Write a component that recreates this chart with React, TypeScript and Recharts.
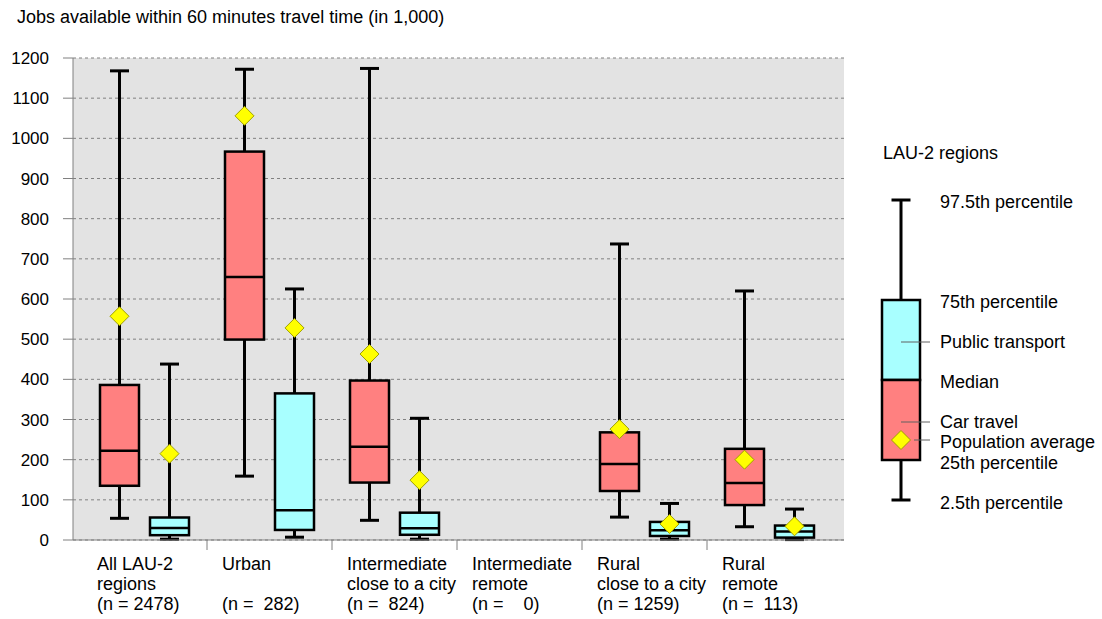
import React from 'react';
import { ComposedChart, Bar, XAxis, YAxis, CartesianGrid } from 'recharts';

// ---------- data ----------
const catLine1 = ['All LAU-2', 'Urban', 'Intermediate', 'Intermediate', 'Rural', 'Rural'];
const catLine2 = ['regions', '', 'close to a city', 'remote', 'close to a city', 'remote'];
const counts = ['(n = 2478)', '(n =  282)', '(n =  824)', '(n =    0)', '(n = 1259)', '(n =  113)'];

// [2.5th, 25th, median, 75th, 97.5th, population average]
const carStats: (number[] | null)[] = [
  [54, 135, 222, 386, 1168, 557],
  [159, 499, 655, 967, 1172, 1056],
  [49, 143, 232, 397, 1174, 463],
  null,
  [57, 122, 189, 268, 737, 276],
  [33, 87, 142, 227, 620, 200],
];
const ptStats: (number[] | null)[] = [
  [2, 12, 30, 56, 438, 215],
  [7, 25, 74, 365, 625, 528],
  [2, 13, 29, 68, 303, 149],
  null,
  [2, 10, 24, 45, 91, 40],
  [1, 6, 21, 36, 77, 34],
];
const yTicks = [0, 100, 200, 300, 400, 500, 600, 700, 800, 900, 1000, 1100, 1200];

const data = catLine1.map((c, i) => ({
  name: `${c} ${catLine2[i]}`.trim(),
  car: carStats[i],
  pt: ptStats[i],
}));

const FONT = 'Arial, "Liberation Sans", sans-serif';
const FS = 18;
const CAR = '#FF8080';
const PT = '#A8FFFF';
const GRID = '#808080';

const Diamond = ({ cx, cy, r }: { cx: number; cy: number; r: number }) => (
  <polygon
    points={`${cx},${cy - r} ${cx + r},${cy} ${cx},${cy + r} ${cx - r},${cy}`}
    fill="#FFFF00"
    stroke="#A0A000"
    strokeWidth={1}
  />
);

const makeBoxShape = (key: 'car' | 'pt', fill: string) => (props: any) => {
  const { x, y, width, height, payload } = props;
  const s = payload && payload[key];
  if (!s || !isFinite(y) || !isFinite(height)) return <g />;
  const [lo, q1, med, q3, hi, mean] = s;
  const top = Math.min(y, y + height);
  const h = Math.abs(height);
  const k = h / (hi - lo);
  const Y = (v: number) => top + (hi - v) * k;
  const cx = x + width / 2;
  const cap = 9.5;
  return (
    <g>
      <line x1={cx} x2={cx} y1={Y(hi)} y2={Y(lo)} stroke="#000" strokeWidth={3} />
      <line x1={cx - cap} x2={cx + cap} y1={Y(hi)} y2={Y(hi)} stroke="#000" strokeWidth={3} />
      <line x1={cx - cap} x2={cx + cap} y1={Y(lo)} y2={Y(lo)} stroke="#000" strokeWidth={3} />
      <rect x={x} y={Y(q3)} width={width} height={Y(q1) - Y(q3)} fill={fill} stroke="#000" strokeWidth={2.5} />
      <line x1={x} x2={x + width} y1={Y(med)} y2={Y(med)} stroke="#000" strokeWidth={2.5} />
      <Diamond cx={cx} cy={Y(mean)} r={9.5} />
    </g>
  );
};

const CatTick = (props: any) => {
  const { x, y, payload, index } = props;
  const half = payload && typeof payload.offset === 'number' && payload.offset > 0 ? payload.offset : 62.5;
  const left = x - half;
  const lines = [catLine1[index], catLine2[index], counts[index]];
  return (
    <g>
      {index > 0 && <line x1={left} x2={left} y1={y} y2={y + 10} stroke={GRID} strokeWidth={1} />}
      {lines.map((t, j) =>
        t ? (
          <text key={j} x={left + 15} y={y + 30 + j * 20} fontSize={FS} fontFamily={FONT} fill="#000" style={{ whiteSpace: 'pre' }}>
            {t}
          </text>
        ) : null
      )}
    </g>
  );
};

const legendLabels: [string, number][] = [
  ['97.5th percentile', 208],
  ['75th percentile', 308],
  ['Public transport', 348],
  ['Median', 388],
  ['Car travel', 428],
  ['Population average', 448],
  ['25th percentile', 469],
  ['2.5th percentile', 509],
];

const Overlay = () => (
  <svg width={1102} height={619} style={{ position: 'absolute', left: 0, top: 0, pointerEvents: 'none' }}>
    <text x={17} y={23} fontSize={FS} fontFamily={FONT} fill="#000">
      Jobs available within 60 minutes travel time (in 1,000)
    </text>
    <text x={883} y={159} fontSize={FS} fontFamily={FONT} fill="#000">LAU-2 regions</text>
    <line x1={901} x2={901} y1={200} y2={500} stroke="#000" strokeWidth={3} />
    <line x1={891.5} x2={910.5} y1={200} y2={200} stroke="#000" strokeWidth={3} />
    <line x1={891.5} x2={910.5} y1={500} y2={500} stroke="#000" strokeWidth={3} />
    <rect x={882} y={300} width={38} height={80} fill={PT} stroke="#000" strokeWidth={2.5} />
    <rect x={882} y={380} width={38} height={80} fill={CAR} stroke="#000" strokeWidth={2.5} />
    <line x1={901} x2={930} y1={342} y2={342} stroke="#606060" strokeWidth={1} />
    <line x1={901} x2={930} y1={422} y2={422} stroke="#606060" strokeWidth={1} />
    <line x1={914} x2={930} y1={440} y2={440} stroke="#606060" strokeWidth={1} />
    <Diamond cx={901} cy={440} r={9.5} />
    {legendLabels.map(([t, yy]) => (
      <text key={t} x={940} y={yy} fontSize={FS} fontFamily={FONT} fill="#000">{t}</text>
    ))}
  </svg>
);

export default function App() {
  return (
    <div style={{ position: 'absolute', left: 0, top: 0, width: 1102, height: 619, background: '#fff' }}>
      <ComposedChart
        width={1102}
        height={619}
        data={data}
        margin={{ top: 58, right: 258, bottom: 0, left: 0 }}
        barSize={39}
        barGap={11}
      >
        <CartesianGrid horizontal vertical={false} stroke={GRID} strokeDasharray="3 3" fill="#E3E3E3" fillOpacity={1} />
        <XAxis
          dataKey="name"
          type="category"
          height={79}
          padding={{ left: 9, right: 12 }}
          interval={0}
          tick={<CatTick />}
          tickLine={false}
          tickSize={0}
          tickMargin={0}
          axisLine={{ stroke: GRID }}
        />
        <XAxis xAxisId="top" dataKey="name" orientation="top" height={0} tick={false} tickLine={false} axisLine={{ stroke: GRID }} />
        <YAxis
          type="number"
          domain={[0, 1200]}
          ticks={yTicks}
          interval={0}
          width={73}
          tickSize={10}
          tickMargin={14}
          tickLine={{ stroke: GRID }}
          axisLine={{ stroke: GRID }}
          tick={{ fontSize: 17, fontFamily: FONT, fill: '#000' }}
        />
        <YAxis yAxisId="right" orientation="right" domain={[0, 1200]} width={0} tick={false} tickLine={false} axisLine={{ stroke: GRID }} />
        <Bar
          dataKey={(d: any) => (d.car ? [d.car[0], d.car[4]] : null)}
          shape={makeBoxShape('car', CAR)}
          isAnimationActive={false}
        />
        <Bar
          dataKey={(d: any) => (d.pt ? [d.pt[0], d.pt[4]] : null)}
          shape={makeBoxShape('pt', PT)}
          isAnimationActive={false}
        />
      </ComposedChart>
      <Overlay />
    </div>
  );
}
